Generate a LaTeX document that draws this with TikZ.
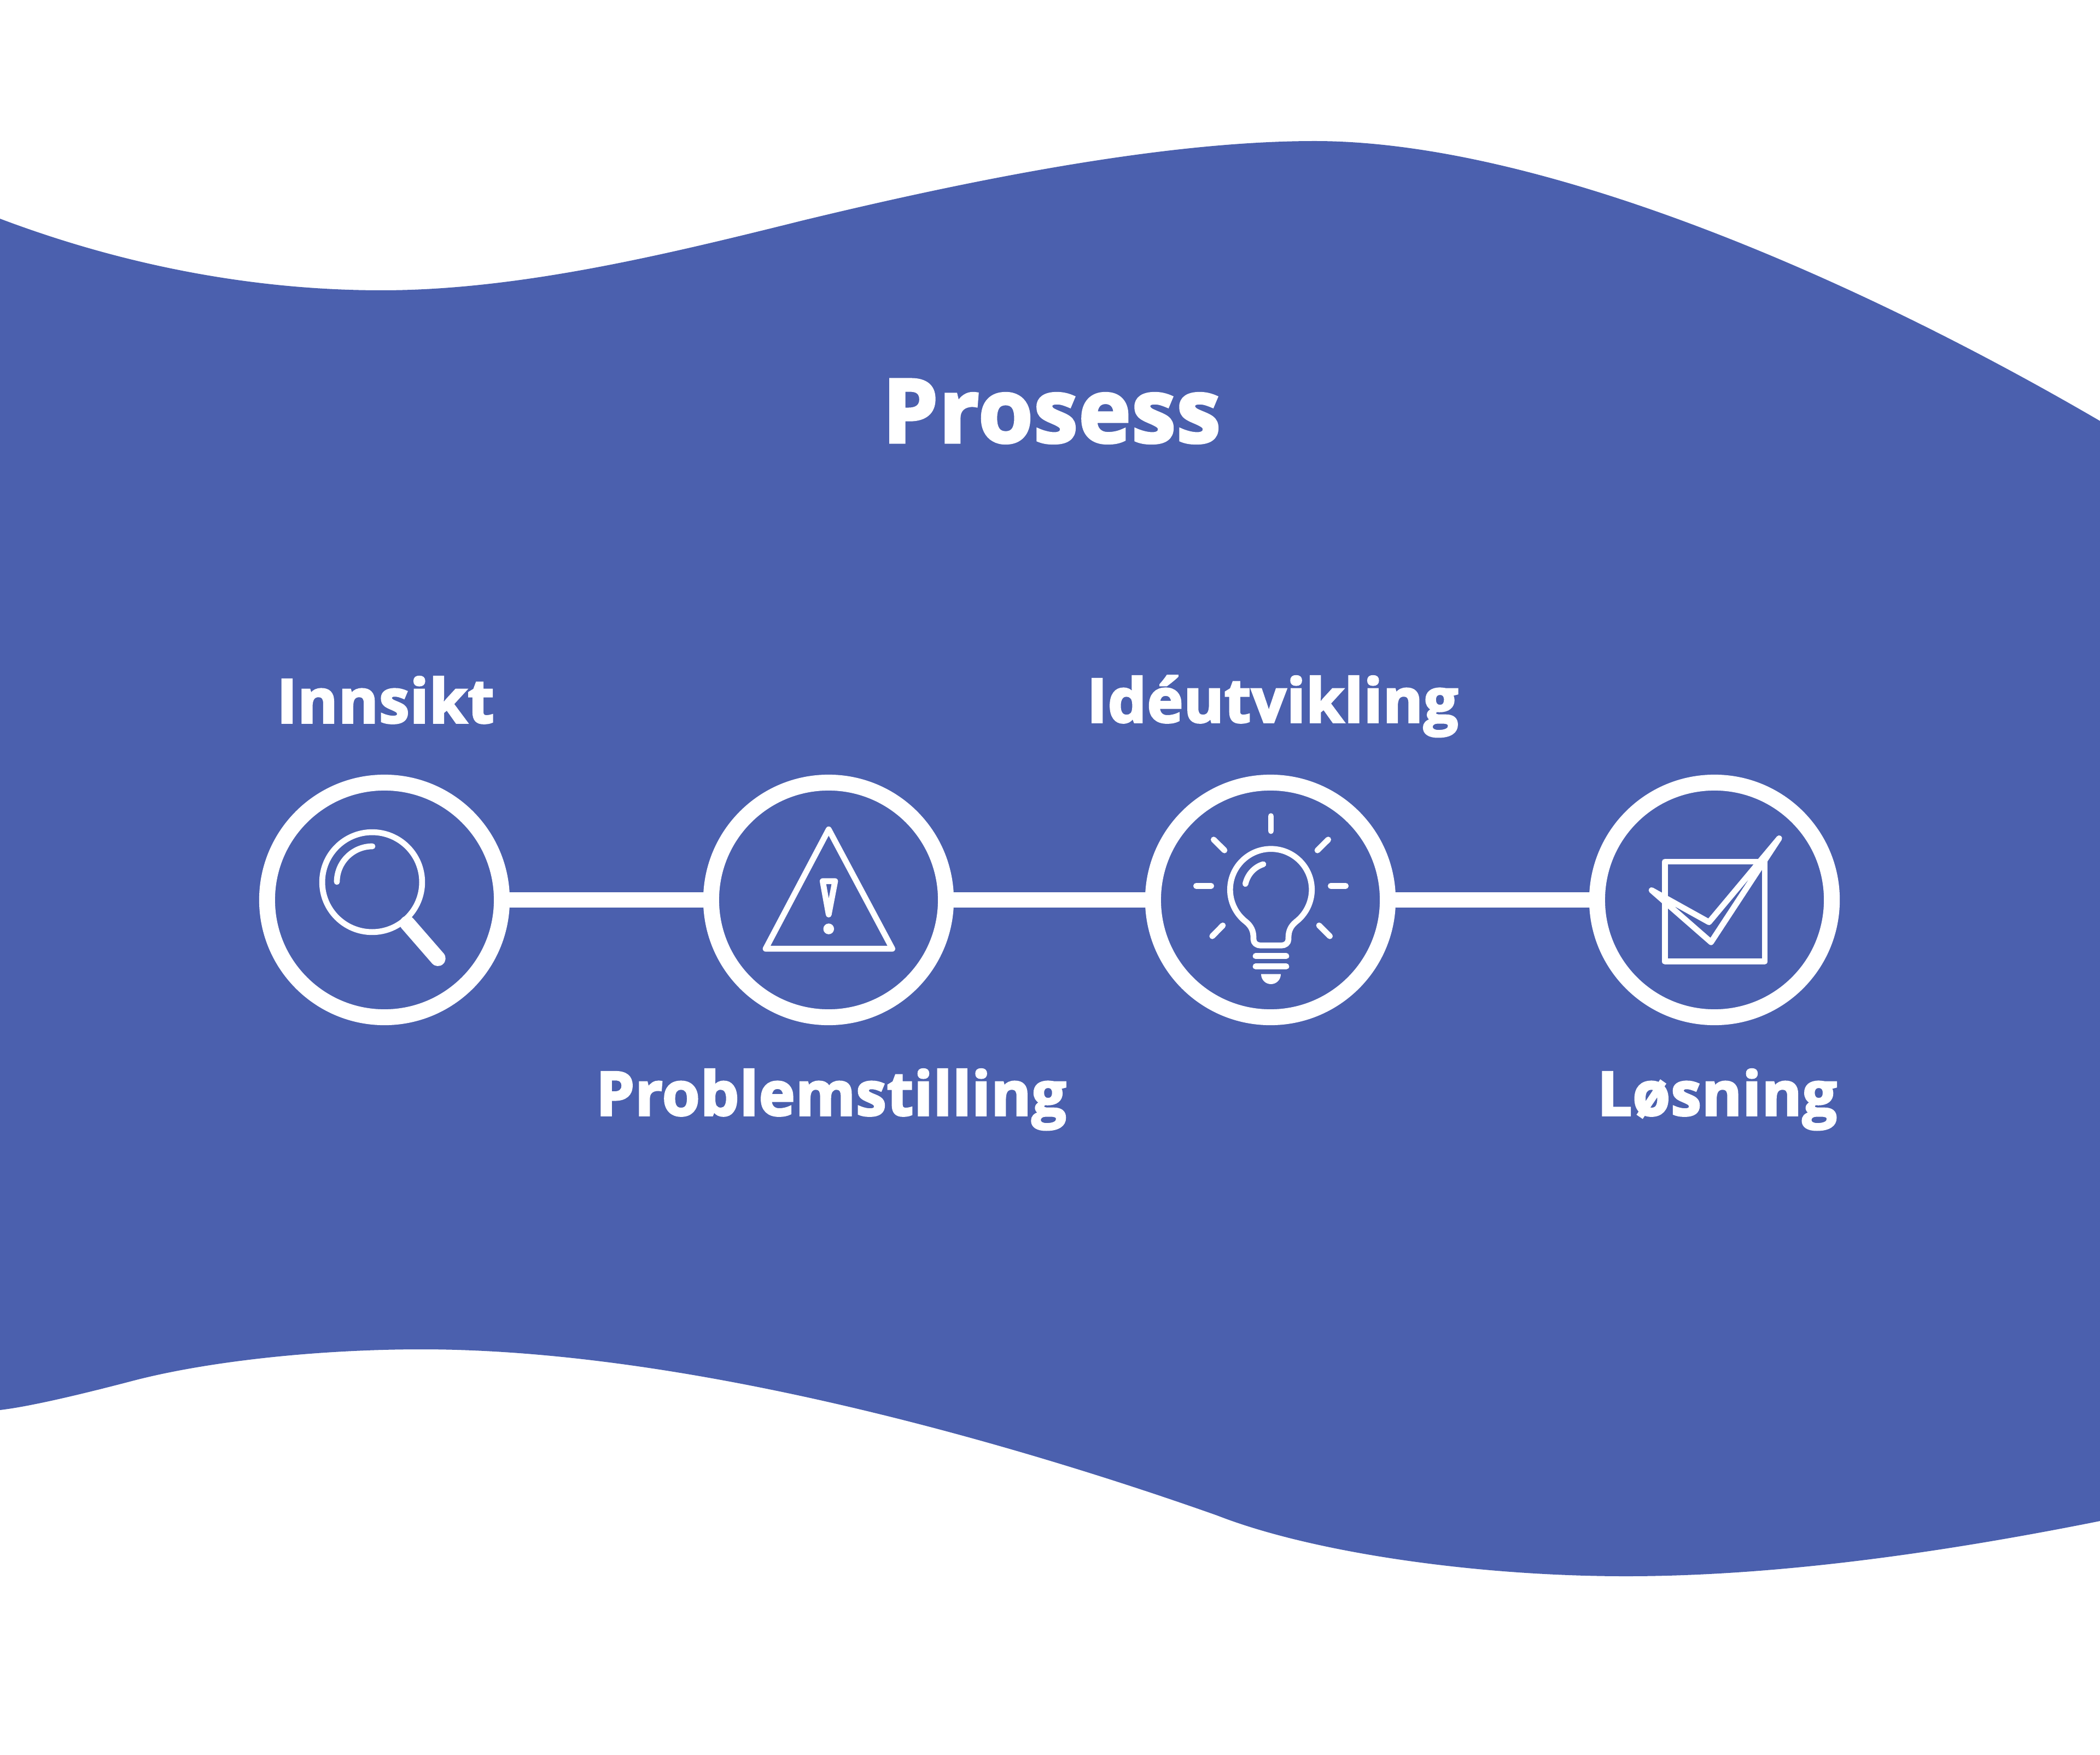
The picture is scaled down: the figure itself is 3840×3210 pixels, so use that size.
\documentclass[tikz,border=0pt]{standalone}
\usepackage{fontspec}
\newfontfamily\labelfont[BoldFeatures={FakeBold=3.2,LetterSpace=1.2}]{Open Sans}
\definecolor{waveblue}{HTML}{4B60AE}
\begin{document}
\begin{tikzpicture}[x=0.01cm, y=-0.01cm,
      every node/.append style={text=white},
      ring/.style={circle,draw=white,line width=0.29cm,minimum size=4.29cm,inner sep=0pt,outer sep=0pt},
      link/.style={draw=white,line width=0.28cm},
      icon/.style={draw=white,line width=0.107cm,line cap=round,line join=round}]
    \tikzstyle{steplabel} = [anchor=base,font=\labelfont\bfseries\fontsize{31.6}{38}\selectfont]
    \useasboundingbox (0,0) rectangle (3840,3210);
    \fill [waveblue] (0,400) .. controls (233,488) and (470,531) .. (698,531)
      .. controls (950,531) and (1220,465) .. (1469,403)
      .. controls (1779,328) and (2130,258) .. (2404,258)
      .. controls (2800,258) and (3360,490) .. (3840,770)
      -- (3840,2782) .. controls (3550,2840) and (3250,2883) .. (2973,2883)
      .. controls (2700,2883) and (2400,2840) .. (2226,2772)
      .. controls (1876,2648) and (1270,2468) .. (771,2468)
      .. controls (580,2468) and (380,2490) .. (245,2525)
      .. controls (165,2546) and (60,2572) .. (0,2579) -- cycle;
    \node (title) [anchor=base,font=\labelfont\bfseries\fontsize{45.8}{55}\selectfont] at (1923,809) {Prosess};
    \node (innsikt) [ring] at (703,1646) {};
    \node (problem) [ring] at (1515,1646) {};
    \node (idea) [ring] at (2323,1646) {};
    \node (solution) [ring] at (3135,1646) {};
    \draw [link] (innsikt) -- (problem);
    \draw [link] (problem) -- (idea);
    \draw [link] (idea) -- (solution);
    \node (innsiktlabel) [steplabel] at (705,1322) {Innsikt};
    \node (problemlabel) [steplabel] at (1520,2040) {Problemstilling};
    \node (idealabel) [steplabel] at (2327,1321) {Idéutvikling};
    \node (solutionlabel) [steplabel] at (3140,2040) {Løsning};
    % magnifier
    \node (lens) [circle,draw=white,line width=0.107cm,minimum size=1.826cm,inner sep=0pt] at (680.5,1613.5) {};
    \draw [icon] (616,1613) arc [start angle=180,end angle=90,radius=0.65cm];
    \draw [icon,line width=0.28cm] (745,1689) -- (800.7,1753);
    % warning sign
    \draw [icon] (1515.3,1517) -- (1631.7,1735.3) -- (1400,1735.3) -- cycle;
    \draw [icon] (1504.3,1611.7) -- (1527,1611.7) -- (1515.3,1672.7) -- cycle;
    \fill [white] (1515.3,1699) circle [radius=0.098cm];
    % light bulb
    \draw [icon] (2324,1552.7) .. controls (2283,1552.7) and (2249.3,1586) .. (2249.3,1627.3)
      .. controls (2249.3,1650) and (2260,1672) .. (2278.3,1686)
      .. controls (2288,1694) and (2292,1703) .. (2292,1715)
      -- (2292,1718) .. controls (2292,1725) and (2298,1729.3) .. (2305,1729.3)
      -- (2343,1729.3) .. controls (2350,1729.3) and (2356,1725) .. (2356,1718)
      -- (2356,1715) .. controls (2356,1703) and (2360,1694) .. (2369.7,1686)
      .. controls (2388,1672) and (2398.7,1650) .. (2398.7,1627.3)
      .. controls (2398.7,1586) and (2365,1552.7) .. cycle;
    \draw [icon] (2277.3,1616.7) .. controls (2281,1600) and (2293,1586) .. (2310,1580.7);
    \draw [icon] (2324,1492.7) -- (2324,1520);
    \draw [icon] (2219.3,1535.7) -- (2239,1555.3);
    \draw [icon] (2428.7,1535.7) -- (2409,1555.3);
    \draw [icon] (2187.3,1620.3) -- (2214.7,1620.3);
    \draw [icon] (2433.3,1620.3) -- (2460.7,1620.3);
    \draw [icon] (2236,1692.7) -- (2216.7,1712.3);
    \draw [icon] (2412,1692.7) -- (2431.7,1712.3);
    \draw [icon] (2296,1748.7) -- (2352,1748.7);
    \draw [icon] (2296,1767.7) -- (2352,1767.7);
    \fill [white] (2306,1781.7) -- (2342,1781.7) .. controls (2342,1792) and (2334,1800) .. (2324,1800)
      .. controls (2314,1800) and (2306,1792) .. cycle;
    % checkbox
    \draw [icon] (3044.3,1576) rectangle (3227,1758.7);
    \draw [icon] (3020,1628.3) -- (3125,1686.7) -- (3253.3,1533.3) -- (3128.7,1723.3) -- cycle;
\end{tikzpicture}
\end{document}
